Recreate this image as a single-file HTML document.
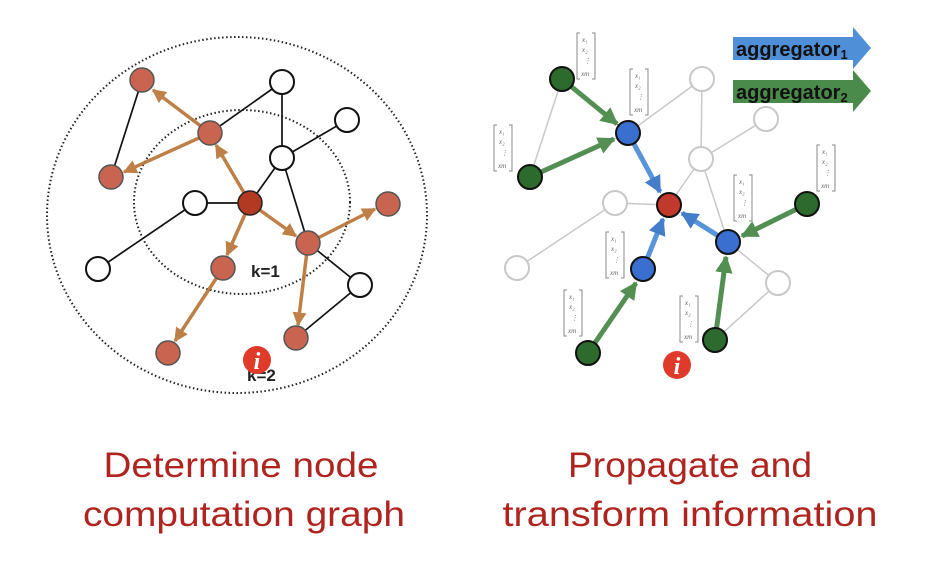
<!DOCTYPE html>
<html><head><meta charset="utf-8"><style>
html,body{margin:0;padding:0;background:#fff;width:946px;height:570px;overflow:hidden}
svg{display:block}
.cap{font-family:"Liberation Sans",sans-serif;fill:#b0241f;font-size:35px}
.vt{font-family:"Liberation Serif",serif;font-style:italic;font-size:7px;fill:#666}
</style></head><body>
<svg width="946" height="570" viewBox="0 0 946 570" xmlns="http://www.w3.org/2000/svg">
<defs>
<marker id="ao" viewBox="0 0 10 10" refX="9" refY="5" markerWidth="4" markerHeight="4" orient="auto"><path d="M0,0L10,5L0,10z" fill="#b87333"/></marker>
<marker id="ag" viewBox="0 0 10 10" refX="9" refY="5" markerWidth="3.5" markerHeight="3.5" orient="auto"><path d="M0,0L10,5L0,10z" fill="#4a8a4a"/></marker>
<marker id="ab" viewBox="0 0 10 10" refX="9" refY="5" markerWidth="3.5" markerHeight="3.5" orient="auto"><path d="M0,0L10,5L0,10z" fill="#3a78c8"/></marker>
<g id="vec">
<path d="M3,0H0V46H3M15,0H18V46H15" fill="none" stroke="#888" stroke-width="1"/>
<text x="5" y="9" class="vt">x₁</text><text x="5" y="19" class="vt">x₂</text><text x="7" y="30" class="vt">⋮</text><text x="4" y="43" class="vt">xm</text>
</g>
</defs>

<!-- LEFT -->
<ellipse cx="237" cy="215" rx="190" ry="178" fill="none" stroke="#222" stroke-width="2" stroke-dasharray="1.5 2.5"/>
<ellipse cx="242" cy="202" rx="108" ry="92" fill="none" stroke="#222" stroke-width="2" stroke-dasharray="1.5 2.5"/>
<g stroke="#111" stroke-width="1.7">
<line x1="142" y1="80" x2="111" y2="177"/>
<line x1="210" y1="133" x2="282" y2="82"/>
<line x1="282" y1="82" x2="282" y2="158"/>
<line x1="282" y1="158" x2="347" y2="120"/>
<line x1="282" y1="158" x2="250" y2="203"/>
<line x1="282" y1="158" x2="308" y2="243"/>
<line x1="195" y1="203" x2="250" y2="203"/>
<line x1="195" y1="203" x2="98" y2="269"/>
<line x1="308" y1="243" x2="360" y2="285"/>
<line x1="360" y1="285" x2="296" y2="338"/>
</g>
<g stroke="#b87333" stroke-width="3.5" opacity="0.9">
<line x1="250" y1="203" x2="216" y2="145" marker-end="url(#ao)"/>
<line x1="210" y1="133" x2="153" y2="90" marker-end="url(#ao)"/>
<line x1="210" y1="133" x2="124" y2="172" marker-end="url(#ao)"/>
<line x1="250" y1="203" x2="296" y2="236" marker-end="url(#ao)"/>
<line x1="308" y1="243" x2="375" y2="209" marker-end="url(#ao)"/>
<line x1="250" y1="203" x2="227" y2="255" marker-end="url(#ao)"/>
<line x1="223" y1="268" x2="175" y2="341" marker-end="url(#ao)"/>
<line x1="308" y1="243" x2="298" y2="325" marker-end="url(#ao)"/>
</g>
<g stroke="#555" stroke-width="1.5" fill="#c8644f">
<circle cx="142" cy="80" r="12"/><circle cx="210" cy="133" r="12"/><circle cx="111" cy="177" r="12"/>
<circle cx="308" cy="243" r="12"/><circle cx="388" cy="204" r="12"/><circle cx="223" cy="268" r="12"/>
<circle cx="168" cy="353" r="12"/><circle cx="296" cy="338" r="12"/>
</g>
<circle cx="250" cy="203" r="12" fill="#b33a22" stroke="#222" stroke-width="1.5"/>
<g stroke="#111" stroke-width="2" fill="#fff">
<circle cx="282" cy="82" r="12"/><circle cx="347" cy="120" r="12"/><circle cx="282" cy="158" r="12"/>
<circle cx="195" cy="203" r="12"/><circle cx="98" cy="269" r="12"/><circle cx="360" cy="285" r="12"/>
</g>
<text x="251" y="277" font-family="Liberation Sans,sans-serif" font-weight="bold" font-size="17" fill="#222">k=1</text>
<text x="247" y="381" font-family="Liberation Sans,sans-serif" font-weight="bold" font-size="17" fill="#222">k=2</text>
<circle cx="257" cy="360" r="14" fill="#e03a2a"/>
<text x="257" y="369" text-anchor="middle" font-family="Liberation Serif,serif" font-style="italic" font-weight="bold" font-size="24" fill="#fff">i</text>

<!-- RIGHT -->
<g stroke="#c8c8c8" stroke-width="1.5">
<line x1="562" y1="79" x2="530" y2="177"/>
<line x1="628" y1="133" x2="702" y2="79"/>
<line x1="702" y1="79" x2="701" y2="159"/>
<line x1="701" y1="159" x2="766" y2="119"/>
<line x1="701" y1="159" x2="669" y2="205"/>
<line x1="701" y1="159" x2="728" y2="242"/>
<line x1="615" y1="203" x2="669" y2="205"/>
<line x1="615" y1="203" x2="517" y2="268"/>
<line x1="728" y1="242" x2="778" y2="283"/>
<line x1="778" y1="283" x2="715" y2="340"/>
</g>
<g stroke="#4a8a4a" stroke-width="5" opacity="0.95">
<line x1="562" y1="79" x2="617" y2="124" marker-end="url(#ag)"/>
<line x1="530" y1="177" x2="614" y2="139" marker-end="url(#ag)"/>
<line x1="807" y1="204" x2="742" y2="236" marker-end="url(#ag)"/>
<line x1="588" y1="353" x2="636" y2="283" marker-end="url(#ag)"/>
<line x1="715" y1="340" x2="726" y2="257" marker-end="url(#ag)"/>
</g>
<g stroke="#4f8fd8" stroke-width="5" opacity="0.95">
<line x1="628" y1="133" x2="660" y2="192" marker-end="url(#ab)"/>
<line x1="728" y1="242" x2="682" y2="213" marker-end="url(#ab)"/>
<line x1="643" y1="269" x2="663" y2="219" marker-end="url(#ab)"/>
</g>
<g stroke="#111" stroke-width="2" fill="#2d6a2d">
<circle cx="562" cy="79" r="12"/><circle cx="530" cy="177" r="12"/><circle cx="807" cy="204" r="12"/>
<circle cx="588" cy="353" r="12"/><circle cx="715" cy="340" r="12"/>
</g>
<g stroke="#111" stroke-width="2" fill="#3a6fd0">
<circle cx="628" cy="133" r="12"/><circle cx="728" cy="242" r="12"/><circle cx="643" cy="269" r="12"/>
</g>
<circle cx="669" cy="205" r="12" fill="#c0392b" stroke="#111" stroke-width="2"/>
<g stroke="#c8c8c8" stroke-width="2" fill="#fff">
<circle cx="702" cy="79" r="12"/><circle cx="766" cy="119" r="12"/><circle cx="701" cy="159" r="12"/>
<circle cx="615" cy="203" r="12"/><circle cx="517" cy="268" r="12"/><circle cx="778" cy="283" r="12"/>
</g>
<use href="#vec" x="577" y="33"/>
<use href="#vec" x="630" y="69"/>
<use href="#vec" x="494" y="125"/>
<use href="#vec" x="817" y="145"/>
<use href="#vec" x="734" y="175"/>
<use href="#vec" x="606" y="232"/>
<use href="#vec" x="564" y="290"/>
<use href="#vec" x="680" y="296"/>
<circle cx="677" cy="365" r="14" fill="#e03a2a"/>
<text x="677" y="374" text-anchor="middle" font-family="Liberation Serif,serif" font-style="italic" font-weight="bold" font-size="24" fill="#fff">i</text>

<path d="M733,37H853V27L871,48L853,69V60H733Z" fill="#4f8fd8"/>
<text x="736" y="56" font-family="Liberation Sans,sans-serif" font-weight="bold" font-size="20" fill="#111">aggregator<tspan font-size="13" dy="3">1</tspan></text>
<path d="M733,80H853V70L871,91L853,112V103H733Z" fill="#4a8a4a"/>
<text x="736" y="99" font-family="Liberation Sans,sans-serif" font-weight="bold" font-size="20" fill="#111">aggregator<tspan font-size="13" dy="3">2</tspan></text>

<!-- captions -->
<text class="cap" x="241" y="477" text-anchor="middle" textLength="275" lengthAdjust="spacingAndGlyphs">Determine node</text>
<text class="cap" x="244" y="526" text-anchor="middle" textLength="322" lengthAdjust="spacingAndGlyphs">computation graph</text>
<text class="cap" x="690" y="477" text-anchor="middle" textLength="244" lengthAdjust="spacingAndGlyphs">Propagate and</text>
<text class="cap" x="690" y="526" text-anchor="middle" textLength="375" lengthAdjust="spacingAndGlyphs">transform information</text>
</svg>
</body></html>
